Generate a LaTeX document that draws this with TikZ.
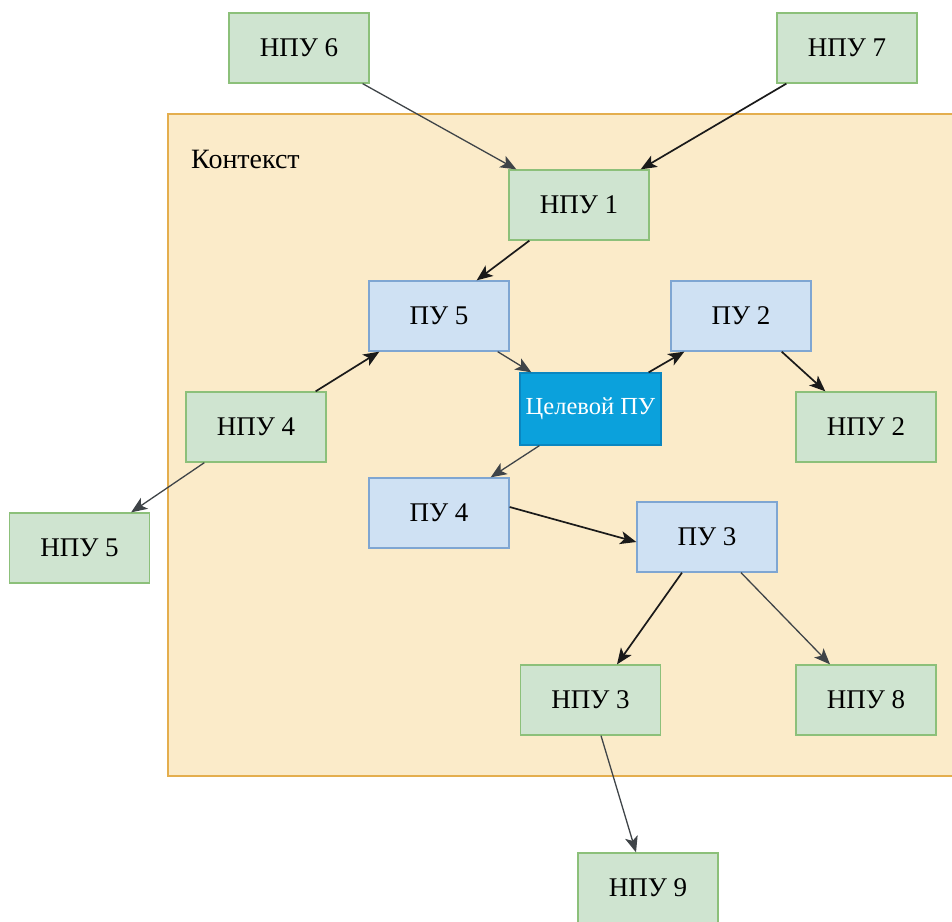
\documentclass[tikz,border=0pt]{standalone}
\usepackage{fontspec}
\setmainfont{Liberation Serif}
\usetikzlibrary{arrows.meta}
\definecolor{npufill}{HTML}{CFE4D0}
\definecolor{npuline}{HTML}{8CC07A}
\definecolor{pufill}{HTML}{CFE1F3}
\definecolor{puline}{HTML}{7FA6D2}
\definecolor{ctxfill}{HTML}{FBEBC9}
\definecolor{ctxline}{HTML}{E4AE4E}
\definecolor{tgtfill}{HTML}{0BA1DC}
\definecolor{tgtline}{HTML}{0A86C0}
\definecolor{linkdark}{HTML}{1A1A1A}
\definecolor{linkgray}{HTML}{3F4448}
\tikzset{
  x=1pt, y=-1pt,
  unit/.style={rectangle, minimum width=140pt, minimum height=70pt, inner sep=0pt,
    line width=1.3pt, font=\fontsize{27}{32}\selectfont},
  npu/.style={unit, fill=npufill, draw=npuline},
  pu/.style={unit, fill=pufill, draw=puline},
  target/.style={unit, minimum width=141pt, minimum height=72pt, fill=tgtfill, draw=tgtline,
    text=white, font=\fontsize{24.5}{29}\selectfont},
  link/.style={-{Stealth[length=16pt, width=13pt, inset=4pt]}, line width=1.7pt, draw=linkdark},
  linklight/.style={link, line width=1.3pt, draw=linkgray},
}
\begin{document}
\begin{tikzpicture}
\useasboundingbox (0,0) rectangle (952,921);

% context area
\draw[fill=ctxfill, draw=ctxline, line width=1.3pt] (168,114) rectangle (960,776);
\node[anchor=west, font=\fontsize{28}{33}\selectfont, inner sep=0pt] (ctx) at (191,159) {Контекст};

% units
\node[npu] (n6) at (299,48) {НПУ 6};
\node[npu] (n7) at (847,48) {НПУ 7};
\node[npu] (n1) at (579,205) {НПУ 1};
\node[pu] (p5) at (439,316) {ПУ 5};
\node[pu] (p2) at (741,316) {ПУ 2};
\node[target] (tgt) at (590.5,409) {Целевой ПУ};
\node[npu] (n4) at (256,427) {НПУ 4};
\node[npu] (n2) at (866,427) {НПУ 2};
\node[npu] (n5) at (79.5,548) {НПУ 5};
\node[pu] (p4) at (439,513) {ПУ 4};
\node[pu] (p3) at (707,537) {ПУ 3};
\node[npu] (n3) at (590.5,700) {НПУ 3};
\node[npu] (n8) at (866,700) {НПУ 8};
\node[npu] (n9) at (648,888) {НПУ 9};

% connections
\draw[linklight] ([xshift=-7pt]n6.south east) -- ([xshift=8pt]n1.north west);
\draw[link] ([xshift=10pt]n7.south west) -- ([xshift=-9pt]n1.north east);
\draw[link] ([xshift=21pt]n1.south west) -- ([xshift=-33pt]p5.north east);
\draw[linklight] ([xshift=-12pt]p5.south east) -- ([xshift=12pt]tgt.north west);
\draw[link] ([xshift=-13pt]tgt.north east) -- ([xshift=14pt]p2.south west);
\draw[link] ([xshift=-30pt]p2.south east) -- ([xshift=30pt]n2.north west);
\draw[link] ([xshift=-11pt]n4.north east) -- ([xshift=11pt]p5.south west);
\draw[linklight] ([xshift=19pt]n4.south west) -- ([xshift=-19pt]n5.north east);
\draw[linklight] ([xshift=20pt]tgt.south west) -- ([xshift=-19pt]p4.north east);
\draw[link] ([yshift=6pt]p4.east) -- ([yshift=-5pt]p3.west);
\draw[link] ([xshift=-25pt]p3.south) -- ([xshift=26.5pt]n3.north);
\draw[linklight] ([xshift=34pt]p3.south) -- ([xshift=-36pt]n8.north);
\draw[linklight] ([xshift=10.5pt]n3.south) -- ([xshift=-12pt]n9.north);
\end{tikzpicture}
\end{document}
